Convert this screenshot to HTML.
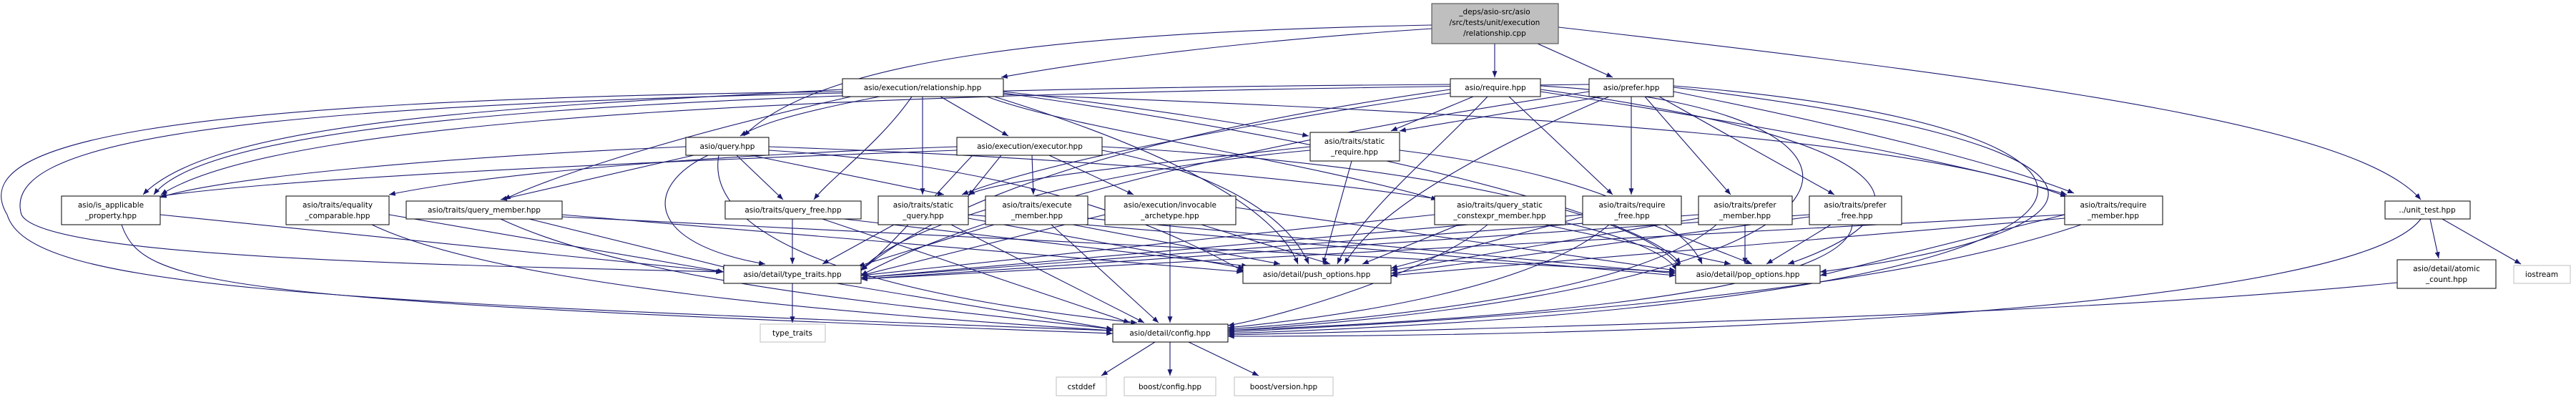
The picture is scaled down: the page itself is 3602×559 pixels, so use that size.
<!DOCTYPE html>
<html><head><meta charset="utf-8"><style>
html,body{margin:0;padding:0;background:#fff;}
svg{display:block;}
text{font-family:"DejaVu Sans","Liberation Sans",sans-serif;font-size:10.5px;fill:#000;text-anchor:middle;}
.n{fill:#fff;stroke:#000;stroke-width:1;}
.g{fill:#fff;stroke:#bfbfbf;stroke-width:1;}
.r{fill:#bfbfbf;stroke:#404040;stroke-width:1;}
.e{fill:none;stroke:#191970;stroke-width:1.1;marker-end:url(#a);}
</style></head><body>
<svg width="3602" height="559" viewBox="0 0 3602 559" xmlns="http://www.w3.org/2000/svg">
<defs><marker id="a" viewBox="0 0 10 8" refX="10" refY="4" markerWidth="9" markerHeight="7" markerUnits="userSpaceOnUse" orient="auto"><path d="M0,0 L10,4 L0,8 z" fill="#191970"/></marker></defs>
<g>
<!-- cpp -->
<path class="e" d="M2002,40 C1700,60 1500,90 1400,108"/>
<path class="e" d="M2002,35 C1500,45 1150,80 1040,190"/>
<path class="e" d="M2090,61 L2090,108"/>
<path class="e" d="M2150,61 L2255,108"/>
<path class="e" d="M2179,38 C2900,120 3300,180 3385,279"/>
<!-- rel -->
<path class="e" d="M1230,135 C1100,160 1060,175 1035,190"/>
<path class="e" d="M1315,135 L1410,190"/>
<path class="e" d="M1290,135 L1290,272"/>
<path class="e" d="M1275,135 C1230,200 1160,250 1138,279"/>
<path class="e" d="M1190,135 C900,200 740,260 705,279"/>
<path class="e" d="M1178,125 C700,150 300,170 200,272"/>
<path class="e" d="M1403,128 C1600,150 1750,175 1830,190"/>
<path class="e" d="M1380,135 C1500,180 1800,220 2010,279"/>
<path class="e" d="M1390,135 C1600,200 1780,280 1815,369"/>
<path class="e" d="M1403,130 C1900,200 2300,300 2350,369"/>
<path class="e" d="M1178,130 C300,150 0,200 30,300 C60,360 600,370 1010,380"/>
<path class="e" d="M1178,128 C200,140 -50,200 10,300 C40,400 400,420 1556,462"/>
<path class="e" d="M1403,132 C2200,160 2700,200 2890,275"/>
<!-- req -->
<path class="e" d="M2060,135 L1945,183"/>
<path class="e" d="M2028,118 C1000,125 300,160 215,272"/>
<path class="e" d="M2110,135 L2255,272"/>
<path class="e" d="M2154,128 C2500,180 2750,230 2890,272"/>
<path class="e" d="M2080,135 C2000,220 1900,300 1870,369"/>
<path class="e" d="M2154,125 C2700,200 2700,300 2500,369"/>
<path class="e" d="M2154,120 C2700,150 2700,400 1717,462"/>
<path class="e" d="M2028,125 C1500,200 1300,300 1204,378"/>
<path class="e" d="M2028,130 C1700,180 1450,230 1345,272"/>
<!-- pref -->
<path class="e" d="M2240,135 C2100,160 2000,175 1957,183"/>
<path class="e" d="M2300,135 L2420,272"/>
<path class="e" d="M2320,135 L2565,272"/>
<path class="e" d="M2281,135 L2281,272"/>
<path class="e" d="M2340,128 C2600,180 2800,230 2900,270"/>
<path class="e" d="M2222,118 C1200,130 400,160 225,272"/>
<path class="e" d="M2250,135 C2050,220 1920,300 1880,369"/>
<path class="e" d="M2340,122 C3000,200 3000,320 2545,380"/>
<path class="e" d="M2340,120 C3100,180 3100,420 1717,466"/>
<path class="e" d="M2222,128 C1600,220 1300,330 1204,385"/>
<!-- query -->
<path class="e" d="M959,205 C600,220 300,250 224,276"/>
<path class="e" d="M970,217 L700,279"/>
<path class="e" d="M1030,217 L1095,279"/>
<path class="e" d="M1050,217 L1320,272"/>
<path class="e" d="M990,217 C900,260 900,340 1070,369"/>
<path class="e" d="M1075,210 C1400,230 1600,300 1740,380"/>
<path class="e" d="M1075,205 C1800,230 2300,300 2345,378"/>
<path class="e" d="M1005,217 C990,300 1100,400 1590,451"/>
<!-- exec -->
<path class="e" d="M1338,205 C900,220 650,250 544,272"/>
<path class="e" d="M1338,210 C800,230 400,250 224,274"/>
<path class="e" d="M1400,217 L1354,274"/>
<path class="e" d="M1443,217 L1445,272"/>
<path class="e" d="M1467,217 L1585,272"/>
<path class="e" d="M1360,217 C1300,280 1250,340 1204,378"/>
<path class="e" d="M1541,210 C1700,240 1800,300 1830,369"/>
<path class="e" d="M1541,205 C2000,230 2300,300 2350,375"/>
<!-- sreq -->
<path class="e" d="M1832,205 C1600,230 1400,250 1354,272"/>
<path class="e" d="M1832,210 C1500,240 1250,320 1204,378"/>
<path class="e" d="M1890,225 L1850,369"/>
<path class="e" d="M1957,210 C2200,240 2350,300 2380,369"/>
<!-- leaves -->
<path class="e" d="M224,300 L1012,380"/>
<path class="e" d="M170,314 C200,400 300,420 1556,466"/>
<path class="e" d="M544,300 L1012,380"/>
<path class="e" d="M520,314 C700,400 1200,440 1556,462"/>
<path class="e" d="M740,306 L1020,375"/>
<path class="e" d="M786,300 L1738,380"/>
<path class="e" d="M786,303 L2343,380"/>
<path class="e" d="M700,306 C900,400 1300,430 1556,460"/>
<path class="e" d="M1108,306 L1108,369"/>
<path class="e" d="M1180,306 L1745,372"/>
<path class="e" d="M1150,306 L1580,451"/>
<path class="e" d="M1250,314 L1150,369"/>
<path class="e" d="M1354,305 L1740,375"/>
<path class="e" d="M1354,300 L2343,385"/>
<path class="e" d="M1330,314 L1600,451"/>
<path class="e" d="M1390,314 L1200,372"/>
<path class="e" d="M1500,314 L1790,369"/>
<path class="e" d="M1521,305 L2343,382"/>
<path class="e" d="M1470,314 L1620,451"/>
<path class="e" d="M1545,300 L1204,385"/>
<path class="e" d="M1680,314 L1860,369"/>
<path class="e" d="M1728,290 L2343,378"/>
<path class="e" d="M1636,314 L1636,451"/>
<path class="e" d="M2006,300 L1204,385"/>
<path class="e" d="M2040,314 L1905,369"/>
<path class="e" d="M2160,314 L2420,369"/>
<path class="e" d="M2080,314 C2000,380 1800,440 1717,455"/>
<path class="e" d="M2213,300 L1204,388"/>
<path class="e" d="M2213,303 L1945,375"/>
<path class="e" d="M2310,314 L2450,369"/>
<path class="e" d="M2250,314 C2150,400 1900,440 1717,458"/>
<path class="e" d="M2375,300 L1204,388"/>
<path class="e" d="M2375,305 L1945,378"/>
<path class="e" d="M2440,314 L2440,369"/>
<path class="e" d="M2400,314 C2300,400 2000,440 1717,460"/>
<path class="e" d="M2530,300 L1204,390"/>
<path class="e" d="M2530,303 L1945,382"/>
<path class="e" d="M2560,314 L2470,369"/>
<path class="e" d="M2590,314 C2580,420 2000,450 1717,462"/>
<path class="e" d="M2887,300 L1204,390"/>
<path class="e" d="M2887,305 L1945,385"/>
<path class="e" d="M2887,300 L2545,385"/>
<path class="e" d="M2910,314 C2600,420 2000,450 1717,464"/>
<path class="e" d="M1108,396 L1108,451"/>
<path class="e" d="M1170,396 L1556,460"/>
<path class="e" d="M1615,478 L1540,525"/>
<path class="e" d="M1636,478 L1636,525"/>
<path class="e" d="M1662,478 L1760,525"/>
<path class="e" d="M3398,306 L3410,361"/>
<path class="e" d="M3415,306 L3525,369"/>
<path class="e" d="M3385,306 C3300,420 2500,470 1717,470"/>
<path class="e" d="M3352,395 C3000,430 2500,450 1717,468"/>
</g>
<g>
<rect class="r" x="2002" y="5" width="177" height="56"/>
<text x="2090" y="20">_deps/asio-src/asio</text><text x="2090" y="35">/src/tests/unit/execution</text><text x="2090" y="50">/relationship.cpp</text>

<rect class="n" x="1178" y="110" width="225" height="25"/><text x="1290" y="126">asio/execution/relationship.hpp</text>
<rect class="n" x="2028" y="110" width="126" height="25"/><text x="2091" y="126">asio/require.hpp</text>
<rect class="n" x="2222" y="110" width="118" height="25"/><text x="2281" y="126">asio/prefer.hpp</text>

<rect class="n" x="959" y="192" width="116" height="25"/><text x="1017" y="208">asio/query.hpp</text>
<rect class="n" x="1338" y="192" width="203" height="25"/><text x="1440" y="208">asio/execution/executor.hpp</text>
<rect class="n" x="1832" y="185" width="125" height="40"/><text x="1894" y="201">asio/traits/static</text><text x="1894" y="216">_require.hpp</text>

<rect class="n" x="86" y="274" width="138" height="40"/><text x="155" y="290">asio/is_applicable</text><text x="155" y="305">_property.hpp</text>
<rect class="n" x="400" y="274" width="144" height="40"/><text x="472" y="290">asio/traits/equality</text><text x="472" y="305">_comparable.hpp</text>
<rect class="n" x="568" y="281" width="218" height="25"/><text x="677" y="297">asio/traits/query_member.hpp</text>
<rect class="n" x="1014" y="281" width="190" height="25"/><text x="1109" y="297">asio/traits/query_free.hpp</text>
<rect class="n" x="1228" y="274" width="126" height="40"/><text x="1291" y="290">asio/traits/static</text><text x="1291" y="305">_query.hpp</text>
<rect class="n" x="1378" y="274" width="143" height="40"/><text x="1450" y="290">asio/traits/execute</text><text x="1450" y="305">_member.hpp</text>
<rect class="n" x="1545" y="274" width="183" height="40"/><text x="1636" y="290">asio/execution/invocable</text><text x="1636" y="305">_archetype.hpp</text>
<rect class="n" x="2006" y="274" width="183" height="40"/><text x="2097" y="290">asio/traits/query_static</text><text x="2097" y="305">_constexpr_member.hpp</text>
<rect class="n" x="2213" y="274" width="138" height="40"/><text x="2282" y="290">asio/traits/require</text><text x="2282" y="305">_free.hpp</text>
<rect class="n" x="2375" y="274" width="131" height="40"/><text x="2440" y="290">asio/traits/prefer</text><text x="2440" y="305">_member.hpp</text>
<rect class="n" x="2530" y="274" width="129" height="40"/><text x="2594" y="290">asio/traits/prefer</text><text x="2594" y="305">_free.hpp</text>
<rect class="n" x="2887" y="274" width="137" height="40"/><text x="2955" y="290">asio/traits/require</text><text x="2955" y="305">_member.hpp</text>
<rect class="n" x="3335" y="281" width="119" height="25"/><text x="3394" y="297">../unit_test.hpp</text>

<rect class="n" x="1012" y="371" width="192" height="25"/><text x="1108" y="387">asio/detail/type_traits.hpp</text>
<rect class="n" x="1738" y="371" width="207" height="25"/><text x="1841" y="387">asio/detail/push_options.hpp</text>
<rect class="n" x="2343" y="371" width="202" height="25"/><text x="2444" y="387">asio/detail/pop_options.hpp</text>
<rect class="n" x="3352" y="363" width="138" height="40"/><text x="3421" y="379">asio/detail/atomic</text><text x="3421" y="394">_count.hpp</text>
<rect class="g" x="3515" y="371" width="79" height="25"/><text x="3554" y="387">iostream</text>

<rect class="n" x="1556" y="453" width="161" height="25"/><text x="1636" y="469">asio/detail/config.hpp</text>
<rect class="g" x="1063" y="453" width="91" height="25"/><text x="1108" y="469">type_traits</text>
<rect class="g" x="1477" y="527" width="70" height="26"/><text x="1512" y="544">cstddef</text>
<rect class="g" x="1572" y="527" width="128" height="26"/><text x="1636" y="544">boost/config.hpp</text>
<rect class="g" x="1726" y="527" width="138" height="26"/><text x="1795" y="544">boost/version.hpp</text>
</g>
</svg>
</body></html>
